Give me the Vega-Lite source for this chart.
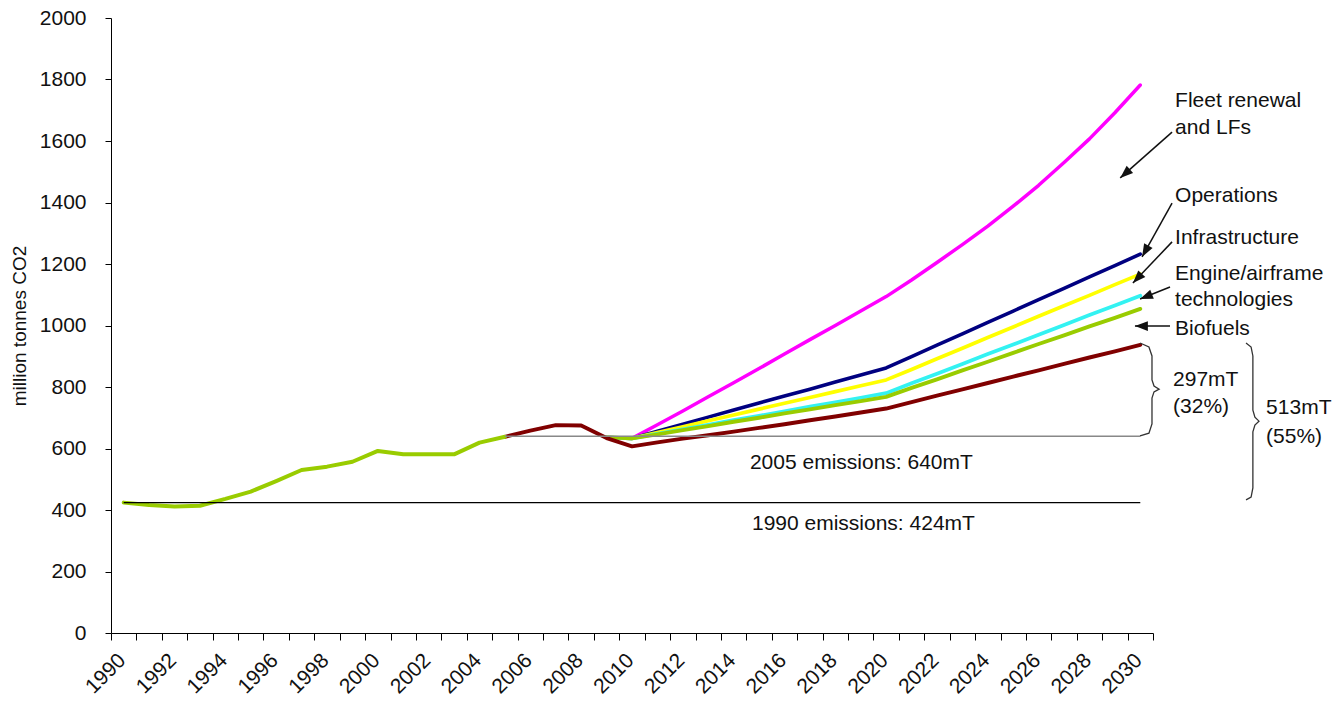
{
  "$schema": "https://vega.github.io/schema/vega-lite/v6.json",
  "width": 1042,
  "height": 615,
  "autosize": {"type": "none"},
  "padding": {"left": 111, "top": 18, "right": 190, "bottom": 72},
  "background": "white",
  "config": {
    "view": {"stroke": null},
    "font": "Liberation Sans",
    "axis": {"domainColor": "#000000", "tickColor": "#000000", "labelColor": "#111111", "titleColor": "#111111", "grid": false, "labelFont": "Liberation Sans", "titleFont": "Liberation Sans"}
  },
  "datasets": {
    "series": [
      {"series": "No measures", "year": 2009, "value": 636},
      {"series": "No measures", "year": 2010, "value": 633},
      {"series": "No measures", "year": 2011, "value": 677},
      {"series": "No measures", "year": 2012, "value": 722},
      {"series": "No measures", "year": 2013, "value": 768},
      {"series": "No measures", "year": 2014, "value": 814},
      {"series": "No measures", "year": 2015, "value": 860},
      {"series": "No measures", "year": 2016, "value": 907},
      {"series": "No measures", "year": 2017, "value": 954},
      {"series": "No measures", "year": 2018, "value": 1000},
      {"series": "No measures", "year": 2019, "value": 1047},
      {"series": "No measures", "year": 2020, "value": 1094},
      {"series": "No measures", "year": 2021, "value": 1148},
      {"series": "No measures", "year": 2022, "value": 1205},
      {"series": "No measures", "year": 2023, "value": 1263},
      {"series": "No measures", "year": 2024, "value": 1323},
      {"series": "No measures", "year": 2025, "value": 1388},
      {"series": "No measures", "year": 2026, "value": 1456},
      {"series": "No measures", "year": 2027, "value": 1530},
      {"series": "No measures", "year": 2028, "value": 1607},
      {"series": "No measures", "year": 2029, "value": 1692},
      {"series": "No measures", "year": 2030, "value": 1782},
      {"series": "Fleet renewal and LFs", "year": 2009, "value": 636},
      {"series": "Fleet renewal and LFs", "year": 2010, "value": 633},
      {"series": "Fleet renewal and LFs", "year": 2011, "value": 656},
      {"series": "Fleet renewal and LFs", "year": 2012, "value": 679},
      {"series": "Fleet renewal and LFs", "year": 2013, "value": 702},
      {"series": "Fleet renewal and LFs", "year": 2014, "value": 725},
      {"series": "Fleet renewal and LFs", "year": 2015, "value": 748},
      {"series": "Fleet renewal and LFs", "year": 2016, "value": 771},
      {"series": "Fleet renewal and LFs", "year": 2017, "value": 793},
      {"series": "Fleet renewal and LFs", "year": 2018, "value": 816},
      {"series": "Fleet renewal and LFs", "year": 2019, "value": 839},
      {"series": "Fleet renewal and LFs", "year": 2020, "value": 862},
      {"series": "Fleet renewal and LFs", "year": 2021, "value": 899},
      {"series": "Fleet renewal and LFs", "year": 2022, "value": 936},
      {"series": "Fleet renewal and LFs", "year": 2023, "value": 973},
      {"series": "Fleet renewal and LFs", "year": 2024, "value": 1010},
      {"series": "Fleet renewal and LFs", "year": 2025, "value": 1047},
      {"series": "Fleet renewal and LFs", "year": 2026, "value": 1084},
      {"series": "Fleet renewal and LFs", "year": 2027, "value": 1121},
      {"series": "Fleet renewal and LFs", "year": 2028, "value": 1158},
      {"series": "Fleet renewal and LFs", "year": 2029, "value": 1195},
      {"series": "Fleet renewal and LFs", "year": 2030, "value": 1232},
      {"series": "Operations", "year": 2009, "value": 636},
      {"series": "Operations", "year": 2010, "value": 633},
      {"series": "Operations", "year": 2011, "value": 652},
      {"series": "Operations", "year": 2012, "value": 671},
      {"series": "Operations", "year": 2013, "value": 690},
      {"series": "Operations", "year": 2014, "value": 709},
      {"series": "Operations", "year": 2015, "value": 728},
      {"series": "Operations", "year": 2016, "value": 747},
      {"series": "Operations", "year": 2017, "value": 766},
      {"series": "Operations", "year": 2018, "value": 785},
      {"series": "Operations", "year": 2019, "value": 804},
      {"series": "Operations", "year": 2020, "value": 823},
      {"series": "Operations", "year": 2021, "value": 857},
      {"series": "Operations", "year": 2022, "value": 892},
      {"series": "Operations", "year": 2023, "value": 926},
      {"series": "Operations", "year": 2024, "value": 961},
      {"series": "Operations", "year": 2025, "value": 995},
      {"series": "Operations", "year": 2026, "value": 1030},
      {"series": "Operations", "year": 2027, "value": 1064},
      {"series": "Operations", "year": 2028, "value": 1098},
      {"series": "Operations", "year": 2029, "value": 1133},
      {"series": "Operations", "year": 2030, "value": 1167},
      {"series": "Infrastructure", "year": 2009, "value": 636},
      {"series": "Infrastructure", "year": 2010, "value": 633},
      {"series": "Infrastructure", "year": 2011, "value": 648},
      {"series": "Infrastructure", "year": 2012, "value": 662},
      {"series": "Infrastructure", "year": 2013, "value": 677},
      {"series": "Infrastructure", "year": 2014, "value": 692},
      {"series": "Infrastructure", "year": 2015, "value": 706},
      {"series": "Infrastructure", "year": 2016, "value": 721},
      {"series": "Infrastructure", "year": 2017, "value": 736},
      {"series": "Infrastructure", "year": 2018, "value": 750},
      {"series": "Infrastructure", "year": 2019, "value": 765},
      {"series": "Infrastructure", "year": 2020, "value": 780},
      {"series": "Infrastructure", "year": 2021, "value": 812},
      {"series": "Infrastructure", "year": 2022, "value": 843},
      {"series": "Infrastructure", "year": 2023, "value": 875},
      {"series": "Infrastructure", "year": 2024, "value": 907},
      {"series": "Infrastructure", "year": 2025, "value": 938},
      {"series": "Infrastructure", "year": 2026, "value": 970},
      {"series": "Infrastructure", "year": 2027, "value": 1002},
      {"series": "Infrastructure", "year": 2028, "value": 1034},
      {"series": "Infrastructure", "year": 2029, "value": 1065},
      {"series": "Infrastructure", "year": 2030, "value": 1097},
      {"series": "Engine/airframe technologies", "year": 2009, "value": 636},
      {"series": "Engine/airframe technologies", "year": 2010, "value": 633},
      {"series": "Engine/airframe technologies", "year": 2011, "value": 646},
      {"series": "Engine/airframe technologies", "year": 2012, "value": 660},
      {"series": "Engine/airframe technologies", "year": 2013, "value": 673},
      {"series": "Engine/airframe technologies", "year": 2014, "value": 687},
      {"series": "Engine/airframe technologies", "year": 2015, "value": 700},
      {"series": "Engine/airframe technologies", "year": 2016, "value": 714},
      {"series": "Engine/airframe technologies", "year": 2017, "value": 727},
      {"series": "Engine/airframe technologies", "year": 2018, "value": 741},
      {"series": "Engine/airframe technologies", "year": 2019, "value": 754},
      {"series": "Engine/airframe technologies", "year": 2020, "value": 768},
      {"series": "Engine/airframe technologies", "year": 2021, "value": 797},
      {"series": "Engine/airframe technologies", "year": 2022, "value": 825},
      {"series": "Engine/airframe technologies", "year": 2023, "value": 854},
      {"series": "Engine/airframe technologies", "year": 2024, "value": 882},
      {"series": "Engine/airframe technologies", "year": 2025, "value": 911},
      {"series": "Engine/airframe technologies", "year": 2026, "value": 940},
      {"series": "Engine/airframe technologies", "year": 2027, "value": 968},
      {"series": "Engine/airframe technologies", "year": 2028, "value": 997},
      {"series": "Engine/airframe technologies", "year": 2029, "value": 1025},
      {"series": "Engine/airframe technologies", "year": 2030, "value": 1054},
      {"series": "Biofuels", "year": 2005, "value": 638},
      {"series": "Biofuels", "year": 2006, "value": 658},
      {"series": "Biofuels", "year": 2007, "value": 676},
      {"series": "Biofuels", "year": 2008, "value": 675},
      {"series": "Biofuels", "year": 2009, "value": 634},
      {"series": "Biofuels", "year": 2010, "value": 607},
      {"series": "Biofuels", "year": 2011, "value": 620},
      {"series": "Biofuels", "year": 2012, "value": 632},
      {"series": "Biofuels", "year": 2013, "value": 643},
      {"series": "Biofuels", "year": 2014, "value": 655},
      {"series": "Biofuels", "year": 2015, "value": 667},
      {"series": "Biofuels", "year": 2016, "value": 679},
      {"series": "Biofuels", "year": 2017, "value": 692},
      {"series": "Biofuels", "year": 2018, "value": 704},
      {"series": "Biofuels", "year": 2019, "value": 717},
      {"series": "Biofuels", "year": 2020, "value": 730},
      {"series": "Biofuels", "year": 2021, "value": 751},
      {"series": "Biofuels", "year": 2022, "value": 772},
      {"series": "Biofuels", "year": 2023, "value": 792},
      {"series": "Biofuels", "year": 2024, "value": 813},
      {"series": "Biofuels", "year": 2025, "value": 834},
      {"series": "Biofuels", "year": 2026, "value": 854},
      {"series": "Biofuels", "year": 2027, "value": 875},
      {"series": "Biofuels", "year": 2028, "value": 896},
      {"series": "Biofuels", "year": 2029, "value": 916},
      {"series": "Biofuels", "year": 2030, "value": 937},
      {"series": "Historical", "year": 1990, "value": 424},
      {"series": "Historical", "year": 1991, "value": 416},
      {"series": "Historical", "year": 1992, "value": 411},
      {"series": "Historical", "year": 1993, "value": 414},
      {"series": "Historical", "year": 1994, "value": 436},
      {"series": "Historical", "year": 1995, "value": 460},
      {"series": "Historical", "year": 1996, "value": 494},
      {"series": "Historical", "year": 1997, "value": 530},
      {"series": "Historical", "year": 1998, "value": 541},
      {"series": "Historical", "year": 1999, "value": 557},
      {"series": "Historical", "year": 2000, "value": 592},
      {"series": "Historical", "year": 2001, "value": 581},
      {"series": "Historical", "year": 2002, "value": 581},
      {"series": "Historical", "year": 2003, "value": 581},
      {"series": "Historical", "year": 2004, "value": 619},
      {"series": "Historical", "year": 2005, "value": 638}
    ],
    "refs": [
      {"kind": "2005", "year": 2005, "year_end": 2030, "value": 640},
      {"kind": "1990", "year": 1990, "year_end": 2030, "value": 424}
    ],
    "braces": [
      {"brace": "a", "i": 1, "year": 2029.99, "value": 943},
      {"brace": "a", "i": 2, "year": 2030.34, "value": 930},
      {"brace": "a", "i": 3, "year": 2030.46, "value": 901},
      {"brace": "a", "i": 4, "year": 2030.46, "value": 823},
      {"brace": "a", "i": 5, "year": 2030.54, "value": 803},
      {"brace": "a", "i": 6, "year": 2030.74, "value": 793},
      {"brace": "a", "i": 7, "year": 2030.54, "value": 784},
      {"brace": "a", "i": 8, "year": 2030.46, "value": 764},
      {"brace": "a", "i": 9, "year": 2030.46, "value": 680},
      {"brace": "a", "i": 10, "year": 2030.34, "value": 650},
      {"brace": "a", "i": 11, "year": 2029.99, "value": 641},
      {"brace": "b", "i": 1, "year": 2034.16, "value": 943},
      {"brace": "b", "i": 2, "year": 2034.36, "value": 930},
      {"brace": "b", "i": 3, "year": 2034.43, "value": 901},
      {"brace": "b", "i": 4, "year": 2034.43, "value": 725},
      {"brace": "b", "i": 5, "year": 2034.51, "value": 702},
      {"brace": "b", "i": 6, "year": 2034.67, "value": 689},
      {"brace": "b", "i": 7, "year": 2034.51, "value": 676},
      {"brace": "b", "i": 8, "year": 2034.43, "value": 654},
      {"brace": "b", "i": 9, "year": 2034.43, "value": 472},
      {"brace": "b", "i": 10, "year": 2034.36, "value": 442},
      {"brace": "b", "i": 11, "year": 2034.16, "value": 433}
    ],
    "arrows": [
      {"target": "Fleet renewal and LFs", "year": 2029.21, "value": 1480, "year_end": 2031.25, "value_end": 1629},
      {"target": "Operations", "year": 2030.07, "value": 1223, "year_end": 2031.25, "value_end": 1398},
      {"target": "Infrastructure", "year": 2029.71, "value": 1138, "year_end": 2031.25, "value_end": 1272},
      {"target": "Engine/airframe technologies", "year": 2029.99, "value": 1086, "year_end": 2031.17, "value_end": 1125},
      {"target": "Biofuels", "year": 2029.79, "value": 998, "year_end": 2031.17, "value_end": 998}
    ],
    "labels": [
      {"year": 2031.37, "value": 1730, "label": "Fleet renewal"},
      {"year": 2031.37, "value": 1642, "label": "and LFs"},
      {"year": 2031.37, "value": 1421, "label": "Operations"},
      {"year": 2031.37, "value": 1285, "label": "Infrastructure"},
      {"year": 2031.37, "value": 1167, "label": "Engine/airframe"},
      {"year": 2031.37, "value": 1083, "label": "technologies"},
      {"year": 2031.37, "value": 989, "label": "Biofuels"},
      {"year": 2031.29, "value": 823, "label": "297mT"},
      {"year": 2031.29, "value": 735, "label": "(32%)"},
      {"year": 2034.95, "value": 732, "label": "513mT"},
      {"year": 2034.95, "value": 637, "label": "(55%)"},
      {"year": 2014.64, "value": 553, "label": "2005 emissions: 640mT"},
      {"year": 2014.72, "value": 354, "label": "1990 emissions: 424mT"}
    ]
  },
  "encoding": {
    "x": {
      "field": "year",
      "type": "quantitative",
      "scale": {"domain": [1989.5, 2030.5], "nice": false, "zero": false},
      "axis": {
        "title": null,
        "values": [1989.5, 1990.5, 1991.5, 1992.5, 1993.5, 1994.5, 1995.5, 1996.5, 1997.5, 1998.5, 1999.5, 2000.5, 2001.5, 2002.5, 2003.5, 2004.5, 2005.5, 2006.5, 2007.5, 2008.5, 2009.5, 2010.5, 2011.5, 2012.5, 2013.5, 2014.5, 2015.5, 2016.5, 2017.5, 2018.5, 2019.5, 2020.5, 2021.5, 2022.5, 2023.5, 2024.5, 2025.5, 2026.5, 2027.5, 2028.5, 2029.5, 2030.5],
        "labelExpr": "datum.value < 2030 && (datum.value + 0.5) % 2 == 0 ? toString(datum.value + 0.5) : ''",
        "labelOffset": 11,
        "labelAngle": -45,
        "labelAlign": "right",
        "labelBaseline": "middle",
        "labelPadding": 17,
        "labelFontSize": 21,
        "tickSize": 7,
        "labelOverlap": false,
        "labelFlush": false,
        "labelBound": false
      }
    },
    "y": {
      "field": "value",
      "type": "quantitative",
      "scale": {"domain": [0, 2000], "nice": false},
      "axis": {
        "title": "million tonnes CO2",
        "format": "d",
        "values": [0, 200, 400, 600, 800, 1000, 1200, 1400, 1600, 1800, 2000],
        "tickSize": 6,
        "labelPadding": 19,
        "labelFontSize": 21,
        "titleFontSize": 19,
        "titleFontWeight": "normal",
        "titlePadding": 10,
        "labelFlush": false,
        "labelOverlap": false
      }
    }
  },
  "layer": [
    {
      "data": {"name": "series"},
      "mark": {"type": "line", "strokeCap": "round", "strokeJoin": "round"},
      "encoding": {
        "color": {
          "field": "series",
          "type": "nominal",
          "scale": {
            "domain": ["No measures", "Fleet renewal and LFs", "Operations", "Infrastructure", "Engine/airframe technologies", "Biofuels", "Historical"],
            "range": ["#FF00FF", "#000080", "#FFFF00", "#33F2F2", "#99CC00", "#800000", "#99CC00"]
          },
          "legend": null
        },
        "strokeWidth": {
          "field": "series",
          "type": "ordinal",
          "scale": {
            "domain": ["No measures", "Fleet renewal and LFs", "Operations", "Infrastructure", "Engine/airframe technologies", "Biofuels", "Historical"],
            "range": [3.5, 4, 4.5, 4.5, 5, 4, 6]
          },
          "legend": null
        }
      }
    },
    {
      "data": {"name": "refs"},
      "transform": [{"filter": "datum.kind == '2005'"}],
      "mark": {"type": "rule", "color": "#888888", "strokeWidth": 1.5},
      "encoding": {"x2": {"field": "year_end"}}
    },
    {
      "data": {"name": "refs"},
      "transform": [{"filter": "datum.kind == '1990'"}],
      "mark": {"type": "rule", "color": "#000000", "strokeWidth": 1.3},
      "encoding": {"x2": {"field": "year_end"}}
    },
    {
      "data": {"name": "braces"},
      "mark": {"type": "line", "color": "#333333", "strokeWidth": 1.3, "interpolate": "linear", "clip": false},
      "encoding": {
        "detail": {"field": "brace", "type": "nominal"},
        "order": {"field": "i", "type": "quantitative"}
      }
    },
    {
      "data": {"name": "arrows"},
      "mark": {"type": "rule", "color": "#111111", "strokeWidth": 1.5},
      "encoding": {
        "x2": {"field": "year_end"},
        "y2": {"field": "value_end"}
      }
    },
    {
      "data": {"name": "arrows"},
      "transform": [
        {"calculate": "atan2((datum.year - datum.year_end) * 25.415, (datum.value - datum.value_end) * 0.3075) * 180 / PI", "as": "heading"}
      ],
      "mark": {"type": "point", "shape": "M0,0L-0.6,1.6L0.6,1.6Z", "filled": true, "color": "#111111", "size": 260, "opacity": 1},
      "encoding": {
        "angle": {"field": "heading", "type": "quantitative", "scale": null}
      }
    },
    {
      "data": {"name": "labels"},
      "mark": {"type": "text", "align": "left", "baseline": "middle", "fontSize": 21, "font": "Liberation Sans", "color": "#111111"},
      "encoding": {"text": {"field": "label", "type": "nominal"}}
    }
  ]
}
